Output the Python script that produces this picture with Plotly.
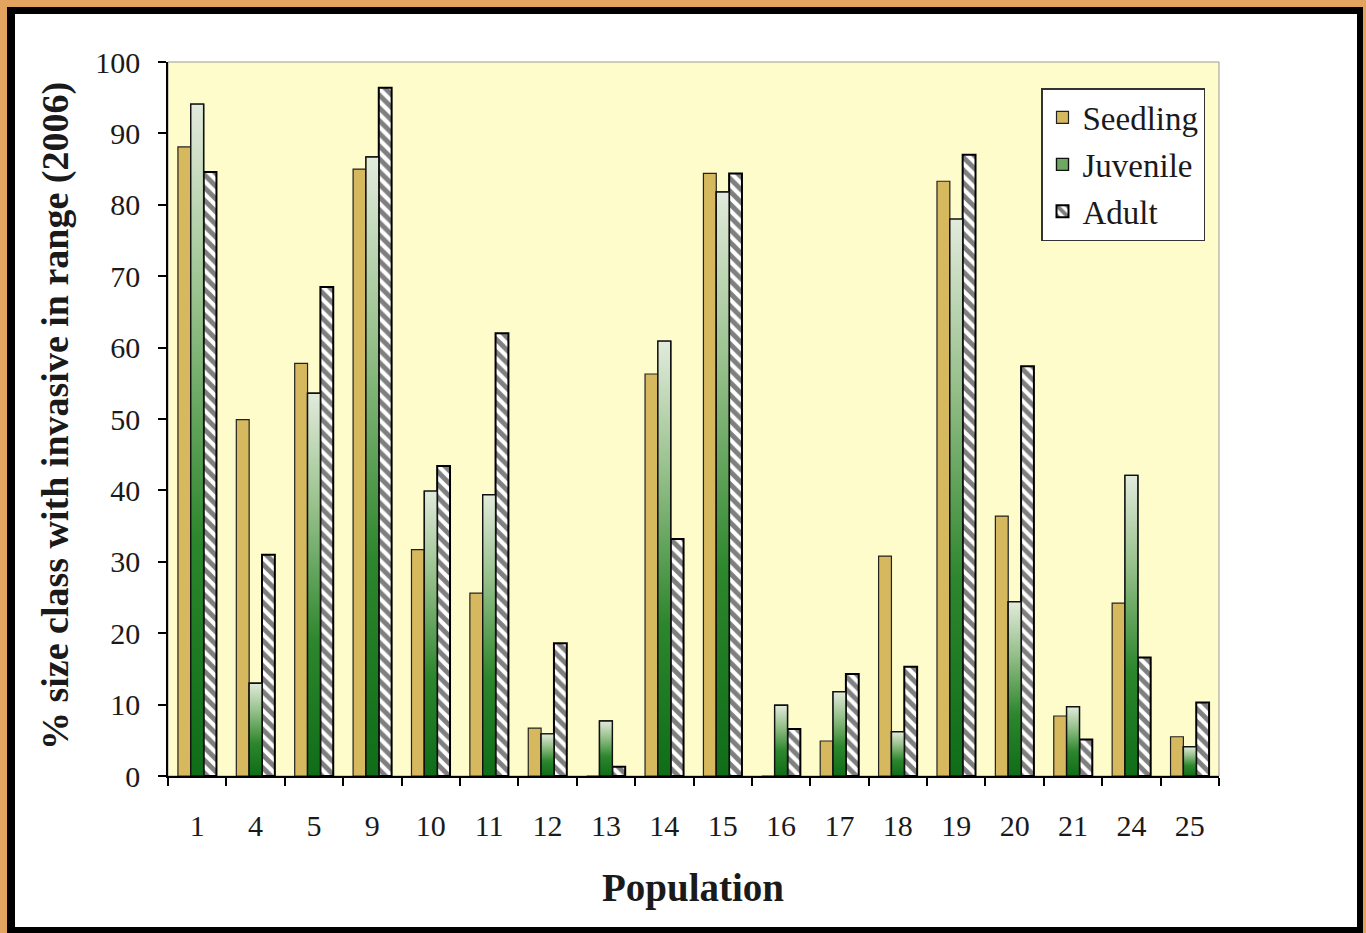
import plotly.graph_objects as go

# Share of each size class with the invasive in range, per population (2006)
populations = ["1", "4", "5", "9", "10", "11", "12", "13", "14", "15",
               "16", "17", "18", "19", "20", "21", "24", "25"]
seedling = [88.1, 49.9, 57.8, 85.0, 31.7, 25.6, 6.7, 0, 56.3, 84.4,
            0, 4.9, 30.8, 83.3, 36.4, 8.4, 24.2, 5.5]
juvenile = [94.1, 13.0, 53.6, 86.7, 39.9, 39.4, 5.9, 7.7, 60.9, 81.8,
            9.9, 11.8, 6.2, 78.0, 24.4, 9.7, 42.1, 4.1]
adult = [84.6, 31.0, 68.5, 96.4, 43.4, 62.0, 18.6, 1.3, 33.2, 84.4,
         6.6, 14.3, 15.3, 87.0, 57.4, 5.1, 16.6, 10.3]

W, H = 1366, 933
ML, MR, MT, MB = 168, 147, 62, 157
PW, PH = W - ML - MR, H - MT - MB

SERIF = "Liberation Serif"
INK = "#1a1a1a"
GOLD = "#D6B85E"
GREEN_MID = "#6FA862"
BAR_W = 0.22

xs = list(range(len(populations)))


def px_x(p):
    return (p - ML) / PW


def px_y(p):
    return (H - MB - p) / PH


fig = go.Figure()

fig.add_trace(go.Bar(
    name="Seedling", x=xs, y=seedling, width=BAR_W, offset=-1.5 * BAR_W,
    marker=dict(color=GOLD, line=dict(color="#222", width=1.2)),
    legendgroup="s",
))
fig.add_trace(go.Bar(
    name="Juvenile", x=xs, y=juvenile, width=BAR_W, offset=-0.5 * BAR_W,
    marker=dict(color=GREEN_MID, line=dict(color="#111", width=1.4)),
    legendgroup="j",
))
fig.add_trace(go.Bar(
    name="Adult", x=xs, y=adult, width=BAR_W, offset=0.5 * BAR_W,
    marker=dict(color="white", line=dict(color="black", width=2),
                pattern=dict(shape="\\", fgcolor="black", bgcolor="white",
                             size=9, solidity=0.55, fillmode="overlay")),
    legendgroup="a",
))

# juvenile bars shaded from dark green at the base to pale at the top
for i, v in zip(xs, juvenile):
    x0, x1 = i - 0.5 * BAR_W, i + 0.5 * BAR_W
    fig.add_trace(go.Scatter(
        x=[x0, x1, x1, x0, x0], y=[0, 0, v, v, 0],
        mode="lines", fill="toself",
        line=dict(color="#111", width=1.4),
        fillgradient=dict(type="vertical",
                          colorscale=[[0, "#0f6d18"], [0.35, "#2c862c"],
                                      [0.7, "#96c08a"], [1, "#e2ebdc"]]),
        showlegend=False, hoverinfo="skip", legendgroup="j",
    ))

shapes = [
    # black frame over the orange mat, then the white card
    dict(type="rect", xref="paper", yref="paper",
         x0=px_x(7), x1=px_x(1363), y0=px_y(945), y1=px_y(7),
         fillcolor="black", line=dict(width=0), layer="below"),
    dict(type="rect", xref="paper", yref="paper",
         x0=px_x(15), x1=px_x(1357), y0=px_y(927), y1=px_y(14),
         fillcolor="white", line=dict(width=0), layer="below"),
    # plot area
    dict(type="rect", xref="paper", yref="paper", x0=0, x1=1, y0=0, y1=1,
         fillcolor="#FEFCCA", line=dict(color="#9a9a9a", width=1),
         layer="below"),
]

annotations = [
    dict(text="<b>Population</b>", xref="paper", yref="paper",
         x=px_x(693), y=px_y(888), xanchor="center", yanchor="middle",
         showarrow=False, font=dict(family=SERIF, size=39, color=INK)),
    dict(text="<b>% size class with invasive in range (2006)</b>",
         xref="paper", yref="paper", x=px_x(55), y=px_y(416),
         xanchor="center", yanchor="middle", textangle=-90,
         showarrow=False, font=dict(family=SERIF, size=38, color=INK)),
]

fig.update_layout(
    width=W, height=H,
    margin=dict(l=ML, r=MR, t=MT, b=MB, pad=0),
    paper_bgcolor="#E2A45E",
    plot_bgcolor="#FEFCCA",
    barmode="overlay",
    shapes=shapes,
    annotations=annotations,
    font=dict(family=SERIF, color=INK),
    legend=dict(
        x=px_x(1041), y=px_y(88), xanchor="left", yanchor="top",
        bgcolor="white", bordercolor="#333", borderwidth=1.5,
        font=dict(family=SERIF, size=33, color=INK),
        traceorder="grouped", tracegroupgap=1,
    ),
    xaxis=dict(
        range=[-0.5, len(populations) - 0.5],
        tickmode="array", tickvals=xs, ticktext=populations,
        ticks="", ticklabelstandoff=22,
        tickfont=dict(family=SERIF, size=30, color=INK),
        minor=dict(tickmode="linear", tick0=-0.5, dtick=1,
                   ticks="outside", ticklen=8, tickcolor="black",
                   tickwidth=1.5, showgrid=False),
        showline=True, linecolor="black", linewidth=1.5,
        showgrid=False, zeroline=False, fixedrange=True,
    ),
    yaxis=dict(
        range=[0, 100], tickmode="linear", tick0=0, dtick=10,
        ticks="outside", ticklen=8, tickcolor="black", tickwidth=1.5,
        ticklabelstandoff=12,
        tickfont=dict(family=SERIF, size=30, color=INK),
        showline=True, linecolor="black", linewidth=1.5,
        showgrid=False, zeroline=False, fixedrange=True,
    ),
)

fig.write_html("out.html")
